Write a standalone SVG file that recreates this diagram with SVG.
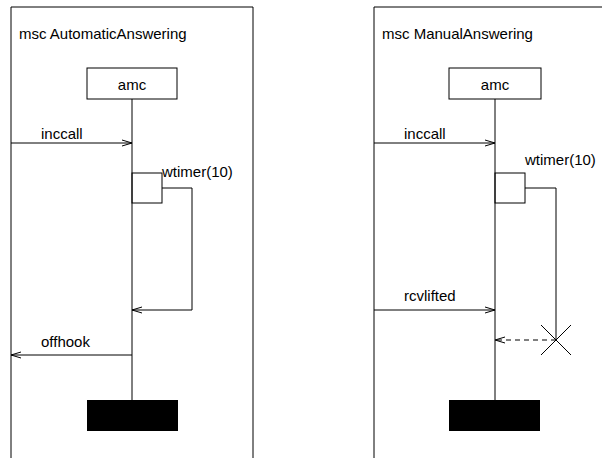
<svg xmlns="http://www.w3.org/2000/svg" width="602" height="458" viewBox="0 0 602 458">
  <style>
    .ln { stroke: #000; stroke-width: 1; fill: none; }
    .box { stroke: #000; stroke-width: 1; fill: #fff; }
    .end { fill: #000; stroke: none; }
    .dash { stroke: #000; stroke-width: 1; fill: none; stroke-dasharray: 5 4; }
    text { font-family: "Liberation Sans", Arial, sans-serif; font-size: 15px; fill: #000; }
  </style>
  <defs>
    <marker id="open" markerWidth="12" markerHeight="8" refX="11" refY="4" orient="auto" markerUnits="userSpaceOnUse">
      <path d="M1,1 L11,4 L1,7" fill="none" stroke="#000" stroke-width="1"/>
    </marker>
  </defs>

  <rect width="602" height="458" fill="#fff"/>

  <!-- MSC AutomaticAnswering -->
  <g id="msc-automatic">
    <path class="ln" d="M11,460 V7 H253 V460"/>
    <text x="19" y="39">msc AutomaticAnswering</text>
  </g>
  <g id="amc-auto">
    <rect class="box" x="87" y="68" width="90" height="31"/>
    <text x="132" y="90" text-anchor="middle">amc</text>
    <line class="ln" x1="132" y1="99" x2="132" y2="400"/>
    <rect class="end" x="87" y="400" width="91" height="31"/>
  </g>
  <g id="timer-auto">
    <rect class="ln" x="132" y="173" width="30" height="30"/>
    <text x="162" y="177">wtimer(10)</text>
  </g>

  <!-- MSC ManualAnswering -->
  <g id="msc-manual">
    <path class="ln" d="M374,460 V7 H606"/>
    <text x="382" y="39">msc ManualAnswering</text>
  </g>
  <g id="amc-manual">
    <rect class="box" x="449" y="68" width="92" height="31"/>
    <text x="495" y="90" text-anchor="middle">amc</text>
    <line class="ln" x1="495" y1="99" x2="495" y2="400"/>
    <rect class="end" x="449" y="400" width="91" height="31"/>
  </g>
  <g id="timer-manual">
    <rect class="ln" x="495" y="173" width="30" height="30"/>
    <text x="525" y="165">wtimer(10)</text>
    <path class="ln" d="M541,325 L571,355 M571,325 L541,355"/>
  </g>

  <g id="connectors">
    <!-- AutomaticAnswering -->
    <line class="ln" x1="11" y1="143" x2="132" y2="143" marker-end="url(#open)"/>
    <text x="41" y="139">inccall</text>
    <polyline class="ln" points="162,188 192,188 192,310 132,310" marker-end="url(#open)"/>
    <line class="ln" x1="132" y1="355" x2="11" y2="355" marker-end="url(#open)"/>
    <text x="41" y="347">offhook</text>

    <!-- ManualAnswering -->
    <line class="ln" x1="374" y1="143" x2="495" y2="143" marker-end="url(#open)"/>
    <text x="404" y="139">inccall</text>
    <polyline class="ln" points="525,188 556,188 556,340"/>
    <line class="ln" x1="374" y1="310" x2="495" y2="310" marker-end="url(#open)"/>
    <text x="404" y="301">rcvlifted</text>
    <line class="dash" x1="556" y1="340" x2="495" y2="340" marker-end="url(#open)"/>
  </g>
</svg>
